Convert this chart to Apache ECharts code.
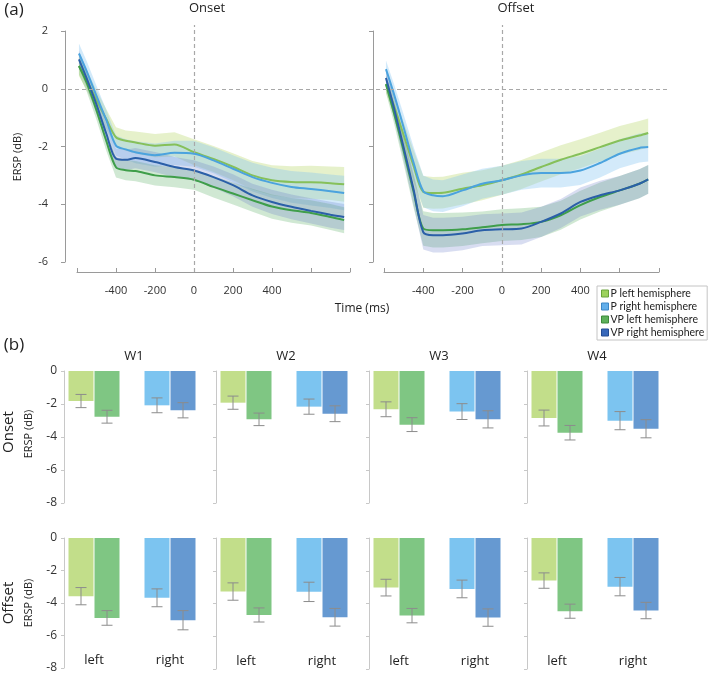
<!DOCTYPE html>
<html><head><meta charset="utf-8">
<script src="https://cdn.jsdelivr.net/npm/echarts@6/dist/echarts.min.js"></script>
<style>html,body{margin:0;padding:0;background:#fff}#c{width:709px;height:674px}</style>
</head><body><div id="c"></div>
<script>
// ---------- DATA: panel (a) ERSP time courses (dB) ----------
const onsetTimes = [-590,-550,-500,-450,-400,-350,-300,-200,-100,0,100,200,300,400,500,600,700,770];
const onsetPLeft   = [0.79, 0.30,-0.40,-1.05,-1.68,-1.80,-1.86,-1.97,-1.93,-2.20,-2.43,-2.70,-3.00,-3.17,-3.23,-3.24,-3.27,-3.31];
const onsetPRight  = [1.22, 0.60,-0.25,-1.08,-1.97,-2.10,-2.20,-2.30,-2.22,-2.25,-2.48,-2.77,-3.06,-3.26,-3.40,-3.47,-3.55,-3.61];
const onsetVPLeft  = [0.79, 0.20,-0.75,-1.80,-2.72,-2.82,-2.85,-3.00,-3.06,-3.15,-3.40,-3.63,-3.86,-4.08,-4.21,-4.30,-4.44,-4.55];
const onsetVPRight = [1.02, 0.35,-0.55,-1.55,-2.42,-2.46,-2.40,-2.54,-2.71,-2.83,-3.06,-3.34,-3.69,-3.92,-4.09,-4.23,-4.36,-4.44];
const onsetPSem  = [0.35,0.35,0.35,0.35,0.35,0.35,0.38,0.40,0.42,0.45,0.45,0.47,0.50,0.52,0.55,0.57,0.58,0.60];
const onsetVPSem = [0.30,0.30,0.32,0.35,0.35,0.35,0.35,0.35,0.35,0.35,0.37,0.38,0.40,0.42,0.43,0.44,0.45,0.45];

const offsetTimes = [-590,-550,-500,-450,-400,-350,-300,-200,-100,0,100,200,300,400,500,600,700,745];
const offsetPLeft   = [0.16,-0.57,-1.60,-2.66,-3.57,-3.61,-3.60,-3.46,-3.34,-3.17,-2.97,-2.71,-2.46,-2.25,-2.02,-1.79,-1.62,-1.53];
const offsetPRight  = [0.68,-0.17,-1.34,-2.55,-3.55,-3.69,-3.72,-3.52,-3.29,-3.17,-3.00,-2.92,-2.92,-2.83,-2.57,-2.25,-2.05,-2.02];
const offsetVPLeft  = [0.16,-0.82,-2.16,-3.55,-4.84,-4.90,-4.90,-4.87,-4.80,-4.72,-4.69,-4.61,-4.38,-4.03,-3.75,-3.52,-3.29,-3.14];
const offsetVPRight = [0.37,-0.64,-2.03,-3.47,-4.97,-5.07,-5.07,-5.01,-4.90,-4.87,-4.84,-4.61,-4.32,-3.92,-3.69,-3.52,-3.29,-3.14];
const offsetPSem  = [0.30,0.35,0.45,0.55,0.55,0.55,0.55,0.55,0.52,0.50,0.50,0.50,0.50,0.50,0.50,0.50,0.50,0.50];
const offsetVPSem = [0.30,0.35,0.45,0.55,0.60,0.60,0.60,0.58,0.55,0.55,0.55,0.52,0.50,0.50,0.50,0.50,0.50,0.50];

const timeLabels = [-400,-200,0,200,400];

// ---------- DATA: panel (b) mean ERSP per window (dB) with error ----------
const windows = ['W1','W2','W3','W4'];
const hemiCategories = ['left','right'];
const onsetBarPLeft   = [-1.82,-1.92,-2.32,-2.85];
const onsetBarVPLeft  = [-2.77,-2.93,-3.25,-3.74];
const onsetBarPRight  = [-2.08,-2.16,-2.46,-3.01];
const onsetBarVPRight = [-2.38,-2.59,-2.93,-3.50];
const onsetErrPLeft   = [0.40,0.40,0.45,0.48];
const onsetErrVPLeft  = [0.39,0.38,0.42,0.44];
const onsetErrPRight  = [0.45,0.46,0.48,0.55];
const onsetErrVPRight = [0.46,0.48,0.52,0.55];
const offsetBarPLeft   = [-3.58,-3.27,-3.03,-2.60];
const offsetBarVPLeft  = [-4.92,-4.70,-4.74,-4.47];
const offsetBarPRight  = [-3.68,-3.29,-3.11,-2.97];
const offsetBarVPRight = [-5.06,-4.84,-4.86,-4.43];
const offsetErrPLeft   = [0.53,0.53,0.51,0.47];
const offsetErrVPLeft  = [0.45,0.43,0.44,0.43];
const offsetErrPRight  = [0.55,0.59,0.54,0.56];
const offsetErrVPRight = [0.59,0.54,0.53,0.50];

const seriesNames = ['P left hemisphere','P right hemisphere','VP left hemisphere','VP right hemisphere'];

// ---------- STYLE ----------
const FONT = 'Open Sans';
const lineColors = ['#86c05a','#4ba3de','#3f9e4a','#2b5fa8'];
const bandColors = ['rgba(200,225,140,0.45)','rgba(130,195,240,0.35)','rgba(100,180,110,0.30)','rgba(100,120,200,0.25)'];
const barColors = ['#c2de8a','#7cc4f0','#7fc683','#6699d1'];
const legendColors = [['#9dd25c','#6aa33a'],['#62aeea','#3d86c4'],['#5db05a','#3c8a3a'],['#3868ba','#244c92']];
const AXIS_GREY = '#9a9a9a';
const DASH = {color:'#a8a8a8', type:[4,3], width:1.2};
const BAR_W = 25, BAR_GAP = 1, CAP = 5.5;

const grids = [], xAxes = [], yAxes = [], series = [];
function addGrid(g, xa, ya){ grids.push(g); const i = grids.length-1; xa.gridIndex = i; ya.gridIndex = i; xAxes.push(xa); yAxes.push(ya); return i; }
const hidden = (o) => Object.assign({show:false, splitLine:{show:false}, axisLine:{show:false, onZero:false}}, o);

// --- top panels ---
function timeXAxis(){
  return {type:'value', min:-600, max:800, interval:200, position:'bottom', offset:10,
    axisLine:{show:true, onZero:false, lineStyle:{color:AXIS_GREY, width:1}},
    axisTick:{show:true, inside:true, length:4, lineStyle:{color:AXIS_GREY}},
    axisLabel:{show:true, margin:13, color:'#333', fontSize:11, fontFamily:FONT,
      formatter: v => timeLabels.indexOf(v) >= 0 ? String(v) : ''},
    splitLine:{show:false}};
}
function erspYAxis(showLabels, off){
  return {type:'value', min:-6, max:2, interval:2, offset:off, position:'left',
    axisLine:{show:true, onZero:false, lineStyle:{color:AXIS_GREY}},
    axisTick:{show:true, length:4, lineStyle:{color:AXIS_GREY}},
    axisLabel:{show:showLabels, margin:17, color:'#333', fontSize:11, fontFamily:FONT},
    splitLine:{show:false}};
}
function bandSeries(gi, times, mean, sem, color){
  return {type:'custom', xAxisIndex:gi, yAxisIndex:gi, silent:true, z:1, clip:false,
    data:[[times[0], mean[0]]],
    renderItem:(params, api) => {
      const up = times.map((t,i) => api.coord([t, mean[i] + sem[i]]));
      const lo = times.map((t,i) => api.coord([t, mean[i] - sem[i]])).reverse();
      return {type:'polygon', shape:{points: up.concat(lo)}, style:{fill:color}};
    }};
}
function lineSeries(gi, name, times, mean, color){
  return {type:'line', name, xAxisIndex:gi, yAxisIndex:gi, silent:true, z:3,
    data: times.map((t,i) => [t, mean[i]]), showSymbol:false, symbol:'none', smooth:0.3,
    lineStyle:{color, width:2}, itemStyle:{color}};
}
const panels = [
  {left:77, width:273, yLabels:true, yOff:12, times:onsetTimes, means:[onsetPLeft,onsetPRight,onsetVPLeft,onsetVPRight], sems:[onsetPSem,onsetPSem,onsetVPSem,onsetVPSem]},
  {left:384, width:275, yLabels:false, yOff:11, times:offsetTimes, means:[offsetPLeft,offsetPRight,offsetVPLeft,offsetVPRight], sems:[offsetPSem,offsetPSem,offsetVPSem,offsetVPSem]}
];
panels.forEach(p => {
  const gi = addGrid({left:p.left, top:31, width:p.width, height:231}, timeXAxis(), erspYAxis(p.yLabels, p.yOff));
  [0,1,2,3].forEach(k => series.push(bandSeries(gi, p.times, p.means[k], p.sems[k], bandColors[k])));
  [0,1,2,3].forEach(k => series.push(lineSeries(gi, seriesNames[k], p.times, p.means[k], lineColors[k])));
  // vertical dashed line at t = 0
  const vg = addGrid({left:p.left, top:25, width:p.width, height:247},
    hidden({type:'value', min:-600, max:800}), hidden({type:'value', min:0, max:1}));
  series.push({type:'line', xAxisIndex:vg, yAxisIndex:vg, data:[[0,0.5]], symbol:'none', lineStyle:{opacity:0}, silent:true,
    markLine:{silent:true, symbol:'none', label:{show:false}, lineStyle:DASH, data:[{xAxis:0}]}});
});
// horizontal dashed zero line spanning both panels
const zg = addGrid({left:61, top:31, width:609, height:231}, hidden({type:'value', min:0, max:1}), hidden({type:'value', min:-6, max:2}));
series.push({type:'line', xAxisIndex:zg, yAxisIndex:zg, data:[[0.5,0]], symbol:'none', lineStyle:{opacity:0}, silent:true,
  markLine:{silent:true, symbol:'none', label:{show:false}, lineStyle:DASH, data:[{yAxis:0}]}});

// --- bar panels ---
const barAxisX = [64,216,369,527];
const rows = [
  {top:371, height:132, showCat:false, P:[onsetBarPLeft,onsetBarPRight], VP:[onsetBarVPLeft,onsetBarVPRight], PE:[onsetErrPLeft,onsetErrPRight], VPE:[onsetErrVPLeft,onsetErrVPRight]},
  {top:538, height:131, showCat:true, P:[offsetBarPLeft,offsetBarPRight], VP:[offsetBarVPLeft,offsetBarVPRight], PE:[offsetErrPLeft,offsetErrPRight], VPE:[offsetErrVPLeft,offsetErrVPRight]}
];
function errSeries(gi, means, errs, side){
  return {type:'custom', xAxisIndex:gi, yAxisIndex:gi, silent:true, z:5, clip:false,
    data: means.map((m,i) => [i, m, errs[i]]),
    renderItem:(params, api) => {
      const c = api.value(0), m = api.value(1), e = api.value(2);
      const a = api.coord([c, m + e]), b = api.coord([c, m - e]);
      const x = a[0] + side * (BAR_W + BAR_GAP) / 2;
      const st = {stroke:'#8c8c8c', lineWidth:1};
      return {type:'group', children:[
        {type:'line', shape:{x1:x, y1:a[1], x2:x, y2:b[1]}, style:st},
        {type:'line', shape:{x1:x-CAP, y1:a[1], x2:x+CAP, y2:a[1]}, style:st},
        {type:'line', shape:{x1:x-CAP, y1:b[1], x2:x+CAP, y2:b[1]}, style:st}
      ]};
    }};
}
rows.forEach(r => {
  windows.forEach((w, wi) => {
    const gi = addGrid({left:barAxisX[wi]-8, top:r.top, width:152, height:r.height},
      {type:'category', data:hemiCategories, axisLine:{show:false}, axisTick:{show:false},
        axisLabel:{show:r.showCat, inside:true, margin:1, fontSize:13, color:'#222', fontFamily:FONT}},
      {type:'value', min:-8, max:0, interval:2, offset:-8,
        axisLine:{show:true, onZero:false, lineStyle:{color:'#c8c8c8'}}, axisTick:{show:true, length:3, lineStyle:{color:'#c8c8c8'}},
        axisLabel:{show:wi===0, margin:7, fontSize:12, color:'#333', fontFamily:FONT}, splitLine:{show:false}});
    series.push({type:'bar', xAxisIndex:gi, yAxisIndex:gi, silent:true, barWidth:BAR_W, barGap:(BAR_GAP/BAR_W*100)+'%', z:2,
      data:[r.P[0][wi], r.P[1][wi]], itemStyle:{color:p => p.dataIndex===0 ? barColors[0] : barColors[1]}});
    series.push({type:'bar', xAxisIndex:gi, yAxisIndex:gi, silent:true, barWidth:BAR_W, barGap:(BAR_GAP/BAR_W*100)+'%', z:2,
      data:[r.VP[0][wi], r.VP[1][wi]], itemStyle:{color:p => p.dataIndex===0 ? barColors[2] : barColors[3]}});
    series.push(errSeries(gi, [r.P[0][wi], r.P[1][wi]], [r.PE[0][wi], r.PE[1][wi]], -1));
    series.push(errSeries(gi, [r.VP[0][wi], r.VP[1][wi]], [r.VPE[0][wi], r.VPE[1][wi]], 1));
  });
});

// --- texts ---
function txt(text, x, y, size, opts){
  return Object.assign({type:'text', x, y, silent:true,
    style:{text, fill:'#222', font: size + 'px "' + FONT + '"', align:'center', verticalAlign:'middle'}}, opts||{});
}
const graphic = [
  txt('(a)', 14, 10, 17),
  txt('(b)', 14, 345, 17),
  txt('Onset', 207, 8, 13),
  txt('Offset', 516, 8, 13),
  txt('Time (ms)', 362, 309, 12),
  txt('ERSP (dB)', 18, 157, 11, {rotation:Math.PI/2}),
  txt('Onset', 9, 432, 15, {rotation:Math.PI/2}),
  txt('ERSP (dB)', 29, 434, 11, {rotation:Math.PI/2}),
  txt('Offset', 9, 603, 15, {rotation:Math.PI/2}),
  txt('ERSP (dB)', 29, 603, 11, {rotation:Math.PI/2})
];
windows.forEach((w, wi) => graphic.push(txt(w, barAxisX[wi] + 70, 356, 13)));

const option = {
  animation:false,
  textStyle:{fontFamily:FONT},
  grid:grids, xAxis:xAxes, yAxis:yAxes, series, graphic,
  legend:{orient:'vertical', left:597, top:286, icon:'rect', itemWidth:7, itemHeight:7, itemGap:0,
    selectedMode:false, borderColor:'#c4c4c4', borderWidth:1, padding:[1,3,1,4],
    textStyle:{fontSize:10.5, fontFamily:'Lato', color:'#222', lineHeight:13, padding:[0,0,0,-3]},
    data: seriesNames.map((n,k) => ({name:n, itemStyle:{color:legendColors[k][0], borderColor:legendColors[k][1], borderWidth:1}}))}
};
const chart = echarts.init(document.getElementById('c'), null, {renderer:'canvas'});
chart.setOption(option);
</script></body></html>
